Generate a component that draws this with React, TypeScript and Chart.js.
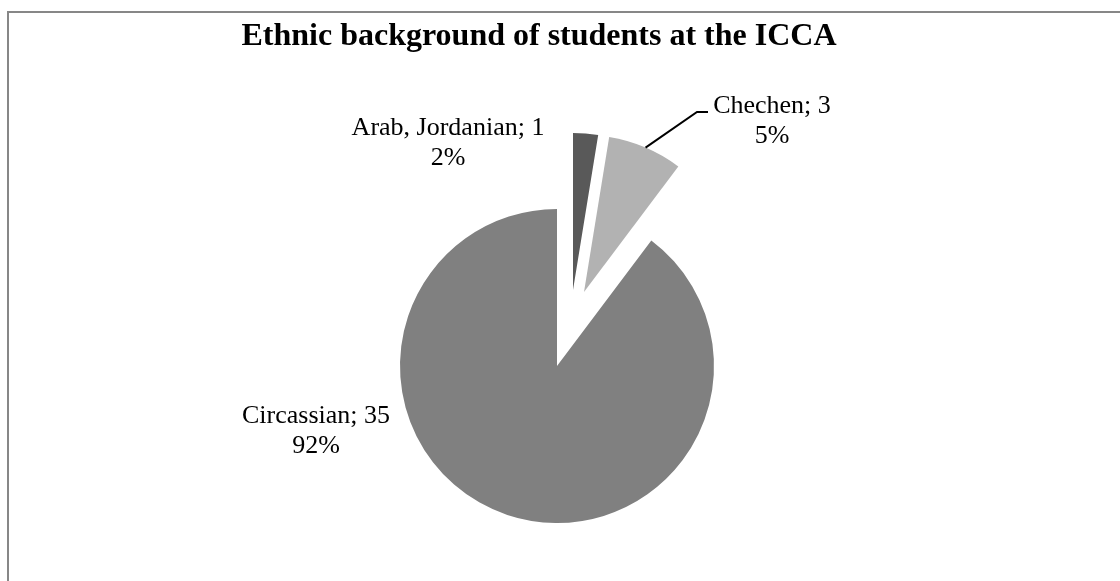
import { useEffect, useRef } from 'react';
import { Chart, registerables } from 'chart.js';

Chart.register(...registerables);

const TITLE = 'Ethnic background of students at the ICCA';
const CATEGORIES = ['Arab, Jordanian', 'Chechen', 'Circassian'];
const VALUES = [1, 3, 35];
const PERCENT_LABELS = ['2%', '5%', '92%'];

// styling
const COLORS = ['#595959', '#b2b2b2', '#808080'];
const EXPLODE: number[][] = [[16, -76], [27, -74], [0, 0]];
const LABEL_OFFSETS: number[][] = [[-109, -231], [215, -253], [-241, 57]];
const LEADERS: (number[][] | null)[] = [null, [[140, -254], [151, -254]], null];
const SERIF = '"Liberation Serif", "Times New Roman", Times, serif';

const piePlugin = {
  id: 'pieDecor',
  afterDatasetsUpdate(chart: any) {
    const meta = chart.getDatasetMeta(0);
    meta.data.forEach((el: any, i: number) => {
      el.x += EXPLODE[i][0];
      el.y += EXPLODE[i][1];
    });
  },
  afterDraw(chart: any) {
    const ctx = chart.ctx as CanvasRenderingContext2D;
    const area = chart.chartArea;
    const cx = (area.left + area.right) / 2;
    const cy = (area.top + area.bottom) / 2;
    ctx.save();
    // title
    ctx.fillStyle = '#000';
    ctx.font = `bold 32px ${SERIF}`;
    ctx.textAlign = 'center';
    ctx.textBaseline = 'alphabetic';
    ctx.fillText(TITLE, 539, 45);

    const meta = chart.getDatasetMeta(0);
    ctx.font = `26px ${SERIF}`;
    meta.data.forEach((el: any, i: number) => {
      const lx = cx + LABEL_OFFSETS[i][0];
      const ly = cy + LABEL_OFFSETS[i][1];
      ctx.fillText(`${CATEGORIES[i]}; ${VALUES[i]}`, lx, ly);
      ctx.fillText(PERCENT_LABELS[i], lx, ly + 30);
      const leader = LEADERS[i];
      if (leader) {
        const mid = (el.startAngle + el.endAngle) / 2;
        const r = el.outerRadius;
        ctx.beginPath();
        ctx.moveTo(el.x + Math.cos(mid) * r, el.y + Math.sin(mid) * r);
        leader.forEach((p) => ctx.lineTo(cx + p[0], cy + p[1]));
        ctx.strokeStyle = '#000';
        ctx.lineWidth = 2;
        ctx.stroke();
      }
    });
    ctx.restore();
  },
};

export default function App() {
  const ref = useRef<HTMLCanvasElement>(null);
  useEffect(() => {
    if (!ref.current) return;
    const chart = new Chart(ref.current, {
      type: 'pie',
      data: {
        labels: CATEGORIES,
        datasets: [
          {
            data: VALUES,
            backgroundColor: COLORS,
            borderWidth: 0,
            hoverOffset: 0,
          },
        ],
      },
      options: {
        responsive: false,
        animation: false,
        radius: 157,
        layout: { padding: { left: 357, right: 363, top: 166, bottom: 15 } },
        plugins: {
          legend: { display: false },
          tooltip: { enabled: false },
          title: { display: false },
        },
        events: [],
      } as any,
      plugins: [piePlugin],
    });
    return () => chart.destroy();
  }, []);
  return (
    <div style={{ position: 'fixed', left: 0, top: 0, width: 1120, height: 581, overflow: 'hidden', background: '#fff' }}>
      <div
        style={{
          position: 'absolute',
          left: 7,
          top: 11,
          width: 2000,
          height: 2000,
          borderLeft: '2px solid #878787',
          borderTop: '2px solid #878787',
        }}
      />
      <canvas ref={ref} width={1120} height={581} style={{ position: 'absolute', left: 0, top: 0 }} />
    </div>
  );
}
